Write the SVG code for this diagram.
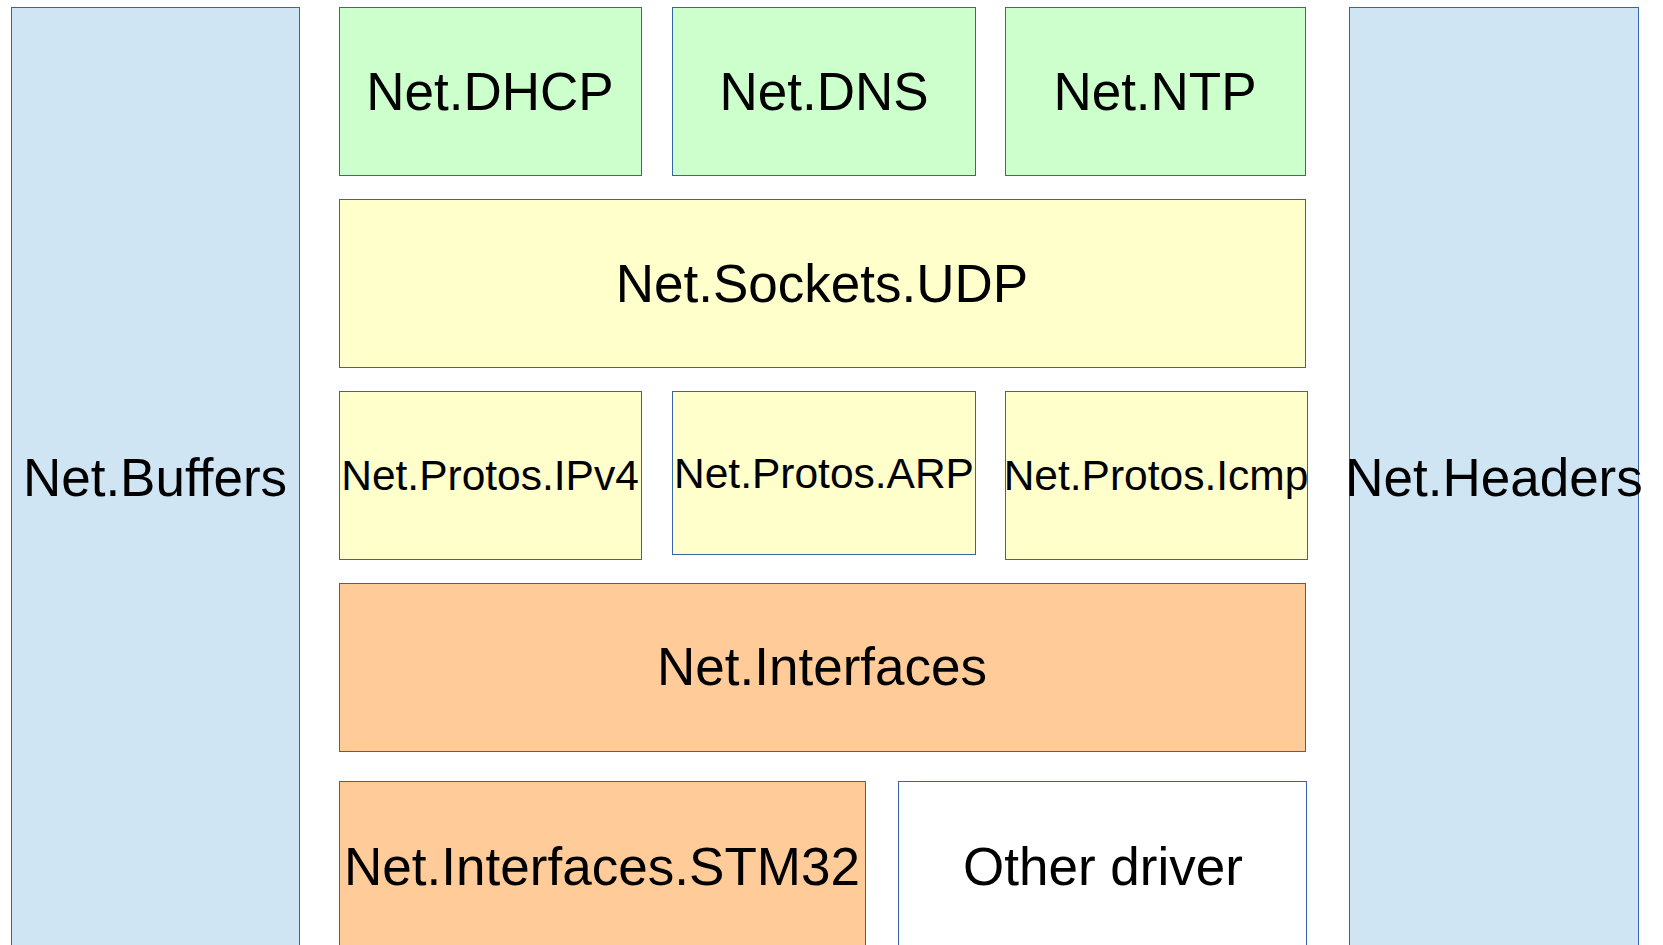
<svg xmlns="http://www.w3.org/2000/svg" width="1663" height="945" viewBox="0 0 1663 945">
<style>
rect{stroke:#3465a4;stroke-width:1}
.b{fill:#cfe5f3}
.g{fill:#ccffcc}
.y{fill:#ffffcc}
.o{fill:#ffcc99}
.w{fill:#ffffff}
text{font-family:"Liberation Sans",Arial,sans-serif;fill:#000;text-anchor:middle}
.L{font-size:53px}
.S{font-size:42.5px}
</style>
<rect x="0" y="0" width="1663" height="945" fill="#ffffff" style="stroke:none"/>
<g id="buffers"><rect class="b" x="11.5" y="7.5" width="288" height="960"/><text class="L" x="155" y="496">Net.Buffers</text></g>
<g id="headers"><rect class="b" x="1349.5" y="7.5" width="289" height="960"/><text class="L" x="1494" y="496">Net.Headers</text></g>
<g id="dhcp"><rect class="g" x="339.5" y="7.5" width="302" height="168"/><text class="L" x="490" y="110">Net.DHCP</text></g>
<g id="dns"><rect class="g" x="672.5" y="7.5" width="303" height="168"/><text class="L" x="824" y="110">Net.DNS</text></g>
<g id="ntp"><rect class="g" x="1005.5" y="7.5" width="300" height="168"/><text class="L" x="1155" y="110">Net.NTP</text></g>
<g id="udp"><rect class="y" x="339.5" y="199.5" width="966" height="168"/><text class="L" x="822" y="302">Net.Sockets.UDP</text></g>
<g id="ipv4"><rect class="y" x="339.5" y="391.5" width="302" height="168"/><text class="S" x="490" y="490">Net.Protos.IPv4</text></g>
<g id="arp"><rect class="y" x="672.5" y="391.5" width="303" height="163"/><text class="S" x="824" y="488">Net.Protos.ARP</text></g>
<g id="icmp"><rect class="y" x="1005.5" y="391.5" width="302" height="168"/><text class="S" x="1156" y="490">Net.Protos.Icmp</text></g>
<g id="interfaces"><rect class="o" x="339.5" y="583.5" width="966" height="168"/><text class="L" x="822" y="685">Net.Interfaces</text></g>
<g id="stm32"><rect class="o" x="339.5" y="781.5" width="526" height="180"/><text class="L" x="602" y="885" textLength="516" lengthAdjust="spacingAndGlyphs">Net.Interfaces.STM32</text></g>
<g id="other"><rect class="w" x="898.5" y="781.5" width="408" height="180"/><text class="L" x="1103" y="885">Other driver</text></g>
<g id="connectors"></g>
</svg>
